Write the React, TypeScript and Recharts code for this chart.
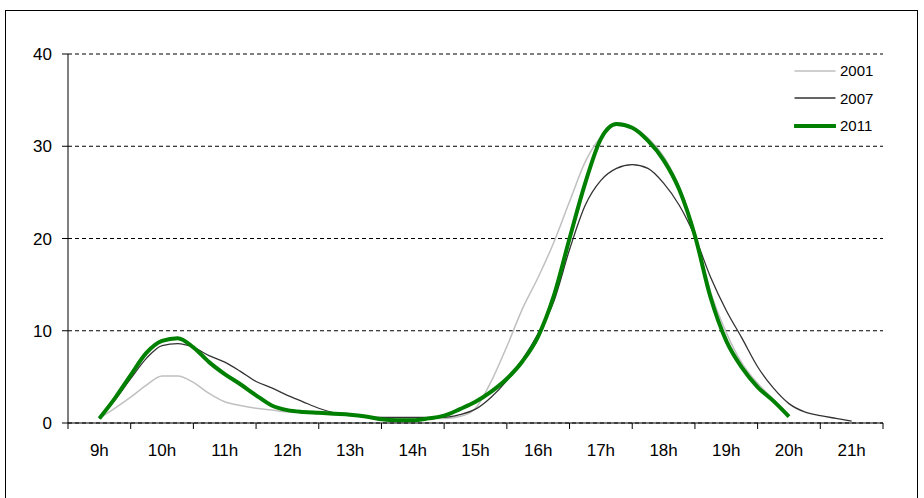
import React from 'react';
import { LineChart, Line, XAxis, YAxis, CartesianGrid, Legend } from 'recharts';

// time of day in hours (15-minute steps)
const times = [
  9.0, 9.25, 9.5, 9.75, 10.0, 10.25, 10.5, 10.75,
  11.0, 11.25, 11.5, 11.75, 12.0, 12.25, 12.5, 12.75,
  13.0, 13.25, 13.5, 13.75, 14.0, 14.25, 14.5, 14.75,
  15.0, 15.25, 15.5, 15.75, 16.0, 16.25, 16.5, 16.75,
  17.0, 17.25, 17.5, 17.75, 18.0, 18.25, 18.5, 18.75,
  19.0, 19.25, 19.5, 19.75, 20.0, 20.25, 20.5, 20.75, 21.0,
];

const s2001 = [
  0.5, 1.6, 2.8, 4.1, 5.1, 5.1, 4.4, 3.2,
  2.3, 1.9, 1.6, 1.4, 1.2, 1.1, 1.0, 0.9,
  0.8, 0.7, 0.6, 0.5, 0.5, 0.5, 0.5, 0.7,
  1.6, 4.5, 8.3, 12.4, 15.8, 19.6, 24.0, 28.3,
  31.0, 32.3, 32.1, 30.9, 28.9, 25.6, 20.6, 14.2,
  9.8, 6.5, 4.3, 2.6, 0.9,
];

const s2007 = [
  0.5, 2.5, 4.8, 7.0, 8.4, 8.6, 8.2, 7.3,
  6.6, 5.6, 4.5, 3.8, 3.0, 2.3, 1.6, 1.1,
  0.9, 0.7, 0.6, 0.6, 0.6, 0.6, 0.6, 0.9,
  1.5, 2.8, 4.6, 6.9, 9.7, 13.2, 18.8, 23.6,
  26.3, 27.6, 28.0, 27.6, 26.0, 23.6, 20.2, 15.8,
  12.2, 9.2, 6.1, 3.8, 2.1, 1.2, 0.8, 0.5, 0.2,
];

const s2011 = [
  0.5, 2.7, 5.2, 7.6, 8.9, 9.2, 8.2, 6.6,
  5.3, 4.2, 3.0, 1.9, 1.4, 1.2, 1.1, 1.0,
  0.9, 0.7, 0.4, 0.3, 0.3, 0.5, 0.8, 1.5,
  2.3, 3.4, 4.8, 6.7, 9.4, 13.8, 20.0, 26.0,
  30.8, 32.4, 32.0, 30.6, 28.5, 25.3, 20.3, 13.6,
  8.9, 6.0, 3.9, 2.4, 0.7,
];

const hourLabels = ['9h', '10h', '11h', '12h', '13h', '14h', '15h', '16h', '17h', '18h', '19h', '20h', '21h'];
const xTicks = [8.5, 9.5, 10.5, 11.5, 12.5, 13.5, 14.5, 15.5, 16.5, 17.5, 18.5, 19.5, 20.5, 21.5];
const yTicks = [0, 10, 20, 30, 40];

const seriesNames = ['2001', '2007', '2011'];
const seriesKeys = ['y2001', 'y2007', 'y2011'];
const seriesColors = ['#c0c0c0', '#333333', '#008000'];
const seriesWidths = [1.5, 1.3, 4];

const data = times.map((t, i) => ({
  t,
  y2001: s2001[i] ?? null,
  y2007: s2007[i] ?? null,
  y2011: s2011[i] ?? null,
}));

const W = 924;
const H = 498;
const MARGIN = { top: 54, right: 41, bottom: 45, left: 8 };
const YAXIS_W = 60;
const PLOT_W = W - MARGIN.left - MARGIN.right - YAXIS_W;
const HALF_STEP = PLOT_W / (xTicks.length - 1) / 2;
const FONT = '"Liberation Sans", Arial, sans-serif';

const XTick = (props: any) => {
  const { x, y, payload } = props;
  const idx = xTicks.indexOf(payload.value);
  if (idx < 0 || idx >= hourLabels.length) return <g />;
  return (
    <text x={x + HALF_STEP} y={y} dy="0.71em" textAnchor="middle" fontSize={17} fill="#000" fontFamily={FONT}>
      {hourLabels[idx]}
    </text>
  );
};

const LegendContent = () => (
  <div style={{ fontFamily: FONT, fontSize: 15, color: '#000' }}>
    {seriesNames.map((name, i) => (
      <div key={name} style={{ display: 'flex', alignItems: 'center', height: 27.5 }}>
        <svg width={42} height={10} style={{ display: 'block' }}>
          <line x1={1} y1={5} x2={41} y2={5} stroke={seriesColors[i]} strokeWidth={seriesWidths[i]} strokeLinecap="round" />
        </svg>
        <span style={{ marginLeft: 4 }}>{name}</span>
      </div>
    ))}
  </div>
);

export default function App() {
  return (
    <div style={{ position: 'absolute', left: 0, top: 0, width: W, height: H, background: '#fff', fontFamily: FONT }}>
      <div
        style={{
          position: 'absolute',
          left: 5,
          top: 10,
          width: 913,
          height: 495,
          border: '1px solid #000',
          boxSizing: 'border-box',
        }}
      />
      <div style={{ position: 'absolute', left: 0, top: 0 }}>
        <LineChart width={W} height={H} data={data} margin={MARGIN}>
          <CartesianGrid vertical={false} stroke="#000" strokeDasharray="4 3" />
          <XAxis
            dataKey="t"
            type="number"
            domain={[8.5, 21.5]}
            ticks={xTicks}
            interval={0}
            height={30}
            tickSize={6}
            tickMargin={15}
            stroke="#000"
            tick={<XTick />}
            allowDataOverflow
          />
          <YAxis
            domain={[0, 40]}
            ticks={yTicks}
            width={YAXIS_W}
            tickSize={6}
            tickMargin={10}
            stroke="#000"
            tick={{ fill: '#000', fontSize: 17, fontFamily: FONT }}
            interval={0}
          />
          <Legend
            layout="vertical"
            align="center"
            verticalAlign="middle"
            content={<LegendContent />}
            wrapperStyle={{ left: 794, top: 57, width: 100 }}
          />
          {seriesKeys.map((k, i) => (
            <Line
              key={k}
              dataKey={k}
              name={seriesNames[i]}
              type="monotone"
              stroke={seriesColors[i]}
              strokeWidth={seriesWidths[i]}
              dot={false}
              activeDot={false}
              isAnimationActive={false}
              connectNulls={false}
            />
          ))}
        </LineChart>
      </div>
    </div>
  );
}
